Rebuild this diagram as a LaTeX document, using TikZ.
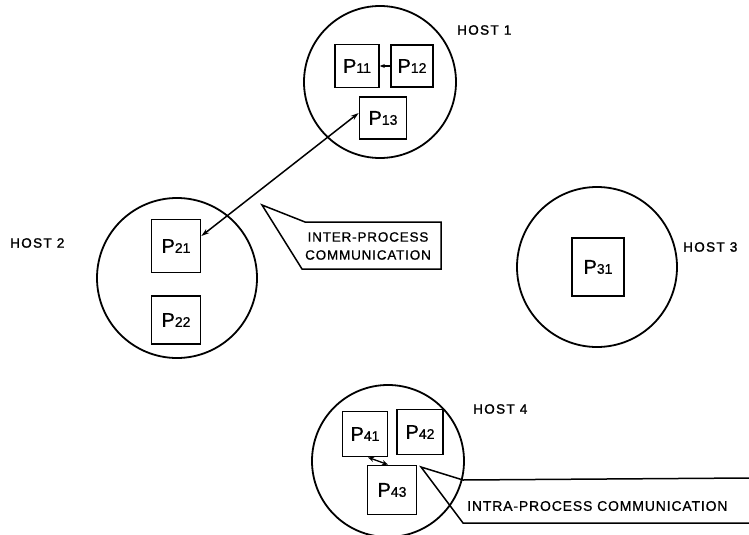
\documentclass[tikz,border=0pt]{standalone}
\usepackage{fontspec}
\setmainfont{Liberation Sans}
\usetikzlibrary{arrows.meta}
\newcommand\procname[1]{P{\fontsize{14}{14}\selectfont #1}}
\tikzset{
  host/.style={circle, draw, line width=1.8pt, inner sep=0pt, minimum size=#1},
  proc/.style={draw, line width=1.7pt, inner sep=0pt, font=\fontsize{20}{20}\selectfont\addfontfeature{FakeBold=0.8}},
  hostlabel/.style={inner sep=0pt, font=\fontsize{13.5}{13.5}\selectfont\addfontfeature{LetterSpace=10,FakeBold=1.6}},
  calltext/.style={inner sep=0pt, align=center, font=\fontsize{13.5}{18}\selectfont\addfontfeature{LetterSpace=6,FakeBold=0.8}},
  link/.style={line width=1.5pt, {Stealth[length=8pt,width=5pt]}-{Stealth[length=8pt,width=5pt]}},
  outline/.style={line width=1.5pt, line join=miter}
}
\begin{document}
\begin{tikzpicture}[x=1pt, y=-1pt]
\useasboundingbox (0,0) rectangle (749,535);

% hosts
\node[host=152pt] (h1) at (380,82) {};
\node[host=160pt] (h2) at (177,278) {};
\node[host=160pt] (h3) at (597,267) {};
\node[host=152pt] (h4) at (388,461) {};

\node[hostlabel, anchor=west] (l1) at (457,30) {HOST 1};
\node[hostlabel, anchor=west] (l2) at (10,243) {HOST 2};
\node[hostlabel, anchor=west] (l3) at (683,247) {HOST 3};
\node[hostlabel, anchor=west] (l4) at (473,409) {HOST 4};

% processes
\node[proc, minimum width=44pt, minimum height=43pt] (p11) at (357,66) {\procname{11}};
\node[proc, minimum width=42pt, minimum height=42pt] (p12) at (412,66) {\procname{12}};
\node[proc, minimum width=47pt, minimum height=42pt] (p13) at (383,118) {\procname{13}};
\node[proc, minimum width=49pt, minimum height=53pt] (p21) at (176,246) {\procname{21}};
\node[proc, minimum width=49pt, minimum height=48pt] (p22) at (176,320) {\procname{22}};
\node[proc, minimum width=52pt, minimum height=58pt] (p31) at (598,267) {\procname{31}};
\node[proc, minimum width=45pt, minimum height=45pt] (p41) at (365,434) {\procname{41}};
\node[proc, minimum width=46pt, minimum height=45pt] (p42) at (420,432) {\procname{42}};
\node[proc, minimum width=49pt, minimum height=49pt] (p43) at (392,490) {\procname{43}};

% communication links
\draw[line width=1.5pt, {Stealth[length=5pt,width=4pt]}-] (p11.east) -- (p12.west);
\draw[link] ([yshift=5pt]p13.west) -- ([yshift=10pt]p21.east);
\draw[line width=1.3pt, {Stealth[length=6pt,width=5pt]}-{Stealth[length=6pt,width=5pt]}]
  ([xshift=3pt]p41.south) -- ([xshift=-4pt]p43.north);

% inter-process callout
\coordinate (t1) at (262,205);
\draw[outline] (t1) -- (305,222) -- (441,222) -- (441,269) -- (302,269) -- cycle;
\node[calltext] (c1) at (368,246) {INTER-PROCESS\\COMMUNICATION};

% intra-process callout
\coordinate (t2) at (421,467);
\draw[outline] (749,478) -- (463,480) -- (t2) -- (463,523) -- (749,523);
\node[calltext, anchor=west, font=\fontsize{14}{18}\selectfont\addfontfeature{LetterSpace=6,FakeBold=0.8}] (c2) at (467,506) {INTRA-PROCESS COMMUNICATION};
\end{tikzpicture}
\end{document}
